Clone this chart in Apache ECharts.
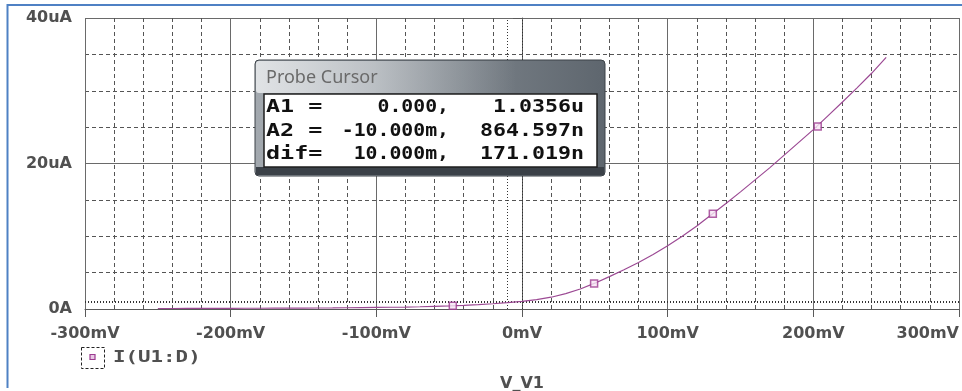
<!DOCTYPE html>
<html><head><meta charset="utf-8">
<script src="https://cdn.jsdelivr.net/npm/echarts@6/dist/echarts.min.js"></script>
<style>html,body{margin:0;padding:0;background:#fff}#c{width:962px;height:391px}</style>
</head><body><div id="c"></div>
<script>
// Sweep voltage V_V1 (mV) and diode current I(U1:D) (uA)
const voltage_mV = [-250,-240,-230,-220,-210,-200,-190,-180,-170,-160,-150,-140,-130,-120,-110,-100,-90,-80,-70,-60,-50,-40,-30,-20,-10,0,10,20,30,40,50,60,70,80,90,100,110,120,130,140,150,160,170,180,190,200,210,220,230,240,250];
const current_uA = [0.07,0.07,0.08,0.08,0.09,0.09,0.10,0.10,0.11,0.12,0.13,0.14,0.15,0.17,0.19,0.21,0.24,0.27,0.31,0.36,0.42,0.50,0.60,0.72,0.865,1.036,1.28,1.62,2.12,2.75,3.55,4.45,5.40,6.40,7.50,8.70,10.00,11.40,12.95,14.50,16.10,17.75,19.40,21.15,22.90,24.65,26.55,28.45,30.40,32.40,34.60];
// trace markers
const marker_mV = [-47.5, 49.5, 131, 203];
const marker_uA = [0.45, 3.5, 13.1, 25.1];
// probe cursors A1, A2
const cursor_mV = [0, -10];
const cursor_uA = [1.0356, 0.864597];
// axis ticks
const xTicks = [-300,-200,-100,0,100,200,300];
const yTicks = [0,20,40];
const seriesName = 'I(U1:D)';
const xTitle = 'V_V1';
const probeTitle = 'Probe Cursor';
const probeLabels = ['A1 =','A2 =','dif='];
const probeX = ['0.000,','-10.000m,','10.000m,'];
const probeY = ['1.0356u','864.597n','171.019n'];

const lineData = voltage_mV.map((v,i)=>[v,current_uA[i]]);
const markData = marker_mV.map((v,i)=>[v,marker_uA[i]]);

const labelFont = {fontFamily:'DejaVu Sans', fontWeight:'bold', fontSize:16, color:'#505050'};
const gridSolid = {show:true, lineStyle:{color:'#6a6a6a', width:1, type:'solid'}};
const gridDash = {show:true, lineStyle:{color:'#555', width:1, type:[4,3]}};

const rowY = [107.5, 131, 154.5];
const probeTexts = [];
probeLabels.forEach((t,i)=>{
  probeTexts.push({type:'text', x:266, y:rowY[i], scaleX:1.3, z:110,
    style:{text:t, font:'bold 18px "DejaVu Sans Mono"', fill:'#111', align:'left', textAlign:'left', verticalAlign:'middle', textVerticalAlign:'middle'}});
  probeTexts.push({type:'text', x:449, y:rowY[i], scaleX:1.1, z:110,
    style:{text:probeX[i], font:'bold 18px "DejaVu Sans Mono"', fill:'#111', align:'right', textAlign:'right', verticalAlign:'middle', textVerticalAlign:'middle'}});
  probeTexts.push({type:'text', x:584, y:rowY[i], scaleX:1.2, z:110,
    style:{text:probeY[i], font:'bold 18px "DejaVu Sans Mono"', fill:'#111', align:'right', textAlign:'right', verticalAlign:'middle', textVerticalAlign:'middle'}});
});

const chart = echarts.init(document.getElementById('c'), null, {renderer:'canvas'});
chart.setOption({
  animation:false,
  backgroundColor:'#fff',
  grid:{left:85, right:3, top:18, bottom:82, containLabel:false, outerBoundsMode:'none', show:false},
  xAxis:{type:'value', min:xTicks[0], max:xTicks[xTicks.length-1], interval:100,
    name:xTitle, nameLocation:'middle', nameGap:67,
    nameTextStyle:labelFont,
    axisLine:{show:true, onZero:false, lineStyle:{color:'#5a5a5a', width:1}},
    axisTick:{show:true, length:8, lineStyle:{color:'#5a5a5a'}},
    axisLabel:Object.assign({margin:17, alignMaxLabel:'right', formatter:v=>v+'mV'}, labelFont),
    splitLine:gridSolid,
    minorTick:{show:true, splitNumber:5, length:0},
    minorSplitLine:gridDash},
  yAxis:{type:'value', min:yTicks[0], max:yTicks[yTicks.length-1], interval:20,
    axisLine:{show:true, lineStyle:{color:'#5a5a5a', width:1}},
    axisTick:{show:true, length:9, lineStyle:{color:'#5a5a5a'}},
    axisLabel:Object.assign({margin:13, formatter:v=>v===0?'0A':v+'uA'}, labelFont),
    splitLine:gridSolid,
    minorTick:{show:true, splitNumber:4, length:0},
    minorSplitLine:gridDash},
  series:[
    {name:seriesName, type:'line', data:lineData, showSymbol:false, symbol:'none', smooth:false,
     lineStyle:{color:'#9c4a94', width:1.2}, z:5,
     markLine:{silent:true, symbol:'none', label:{show:false},
       lineStyle:{color:'#333', width:1, type:[1,2]},
       data:[{xAxis:cursor_mV[0]},{xAxis:cursor_mV[1]},{yAxis:cursor_uA[0]},{yAxis:cursor_uA[1]}]}},
    {name:seriesName, type:'scatter', data:markData, symbol:'rect', symbolSize:7, z:6,
     itemStyle:{color:'#f6e6f4', borderColor:'#9c3a90', borderWidth:1.5}}
  ],
  graphic:[
    // screenshot frame
    {type:'line', shape:{x1:7, y1:5, x2:962, y2:5}, style:{stroke:'#4f81c4', lineWidth:2}, z:50},
    {type:'line', shape:{x1:7.5, y1:4, x2:7.5, y2:388}, style:{stroke:'#4f81c4', lineWidth:2}, z:50},
    // legend
    {type:'rect', shape:{x:81.5, y:347.5, width:23, height:21}, style:{fill:'#fff', stroke:'#222', lineWidth:1, lineDash:[3,2]}, z:50},
    {type:'rect', shape:{x:90, y:354.5, width:5, height:5}, style:{fill:'#e8c8e4', stroke:'#9c3a90', lineWidth:1.2}, z:51},
    {type:'text', x:113, y:358, scaleX:1.3, z:51, style:{text:seriesName, font:'bold 16px "DejaVu Sans Mono"', fill:'#505050', align:'left', textAlign:'left', verticalAlign:'middle', textVerticalAlign:'middle'}},
    // probe cursor window
    {type:'rect', z:100, shape:{x:255, y:60, width:350, height:116, r:4},
     style:{fill:new echarts.graphic.LinearGradient(0,0,1,0,[{offset:0,color:'#a3a9af'},{offset:0.5,color:'#80878e'},{offset:1,color:'#5e666e'}]), stroke:'#3c4248', lineWidth:1}},
    {type:'rect', z:101, shape:{x:256, y:61, width:260, height:32, r:3},
     style:{fill:new echarts.graphic.LinearGradient(0,0,1,0,[{offset:0,color:'rgba(235,237,239,0.85)'},{offset:0.45,color:'rgba(220,223,226,0.6)'},{offset:1,color:'rgba(200,204,208,0)'}])}},
    {type:'rect', z:101, shape:{x:256, y:167, width:348, height:8}, style:{fill:'#3b4148'}},
    {type:'rect', z:102, shape:{x:264, y:94, width:333, height:73}, style:{fill:'#fff', stroke:'#1e1e1e', lineWidth:1.5}},
    {type:'text', x:266, y:78, z:103, style:{text:probeTitle, font:'18px "Noto Sans"', fill:'#6a6a6a', align:'left', textAlign:'left', verticalAlign:'middle', textVerticalAlign:'middle'}}
  ].concat(probeTexts)
});
</script></body></html>
